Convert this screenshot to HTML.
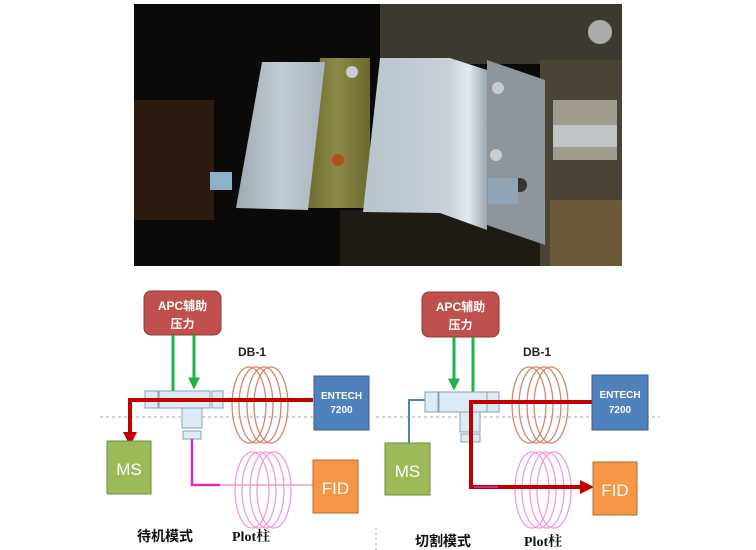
<!DOCTYPE html>
<html><head><meta charset="utf-8"><style>
html,body{margin:0;padding:0;background:#fff;}
svg{display:block;}
text{font-family:"Liberation Sans","Noto Sans CJK SC",sans-serif;}
text.serif{font-family:"Liberation Serif","Noto Serif CJK SC",serif;}
</style></head><body>
<svg width="756" height="550" viewBox="0 0 756 550" xmlns="http://www.w3.org/2000/svg">
<defs>
<linearGradient id="sil" x1="0" y1="0" x2="1" y2="0"><stop offset="0" stop-color="#9fa9b3"/><stop offset="0.5" stop-color="#c3ccd4"/><stop offset="1" stop-color="#aab4bd"/></linearGradient>
<linearGradient id="sil2" x1="0" y1="0" x2="1" y2="0"><stop offset="0" stop-color="#b8c3cc"/><stop offset="0.7" stop-color="#c8d1d8"/><stop offset="0.85" stop-color="#e4eaee"/><stop offset="1" stop-color="#9ba6b0"/></linearGradient>
<linearGradient id="gold" x1="0" y1="0" x2="1" y2="0"><stop offset="0" stop-color="#6c6a2c"/><stop offset="0.5" stop-color="#8b8a45"/><stop offset="1" stop-color="#6a6a30"/></linearGradient>
<marker id="ag" markerWidth="4" markerHeight="4" refX="2.5" refY="2" orient="auto" markerUnits="strokeWidth"><path d="M0,0 L4,2 L0,4z" fill="#1fb24a"/></marker>
<marker id="ar" markerWidth="3.5" markerHeight="3.5" refX="2" refY="1.75" orient="auto" markerUnits="strokeWidth"><path d="M0,0 L3.5,1.75 L0,3.5z" fill="#c00000"/></marker>
</defs>
<!-- photo -->
<rect x="134" y="4" width="488" height="262" fill="#0b0a08"/>
<rect x="134" y="100" width="80" height="120" fill="#2a1a10"/>
<rect x="380" y="4" width="242" height="60" fill="#3c3a30"/>
<rect x="540" y="60" width="82" height="206" fill="#4a4434"/>
<rect x="550" y="200" width="72" height="66" fill="#6b5a3a"/>
<rect x="340" y="210" width="200" height="56" fill="#1e1a14"/>
<polygon points="487,60 545,80 545,245 487,225" fill="#8e969c"/>
<polygon points="320,58 370,58 370,208 305,208" fill="url(#gold)"/>
<polygon points="262,62 325,62 308,210 236,208" fill="url(#sil)"/>
<polygon points="380,58 450,58 487,70 487,230 440,213 363,212" fill="url(#sil2)"/>
<circle cx="338" cy="160" r="6" fill="#b0501c"/>
<circle cx="352" cy="72" r="6" fill="#c8ccd0"/>
<circle cx="498" cy="88" r="6" fill="#c8ccd0"/>
<circle cx="496" cy="155" r="6" fill="#c8ccd0"/>
<circle cx="520" cy="185" r="7" fill="#333"/>
<rect x="488" y="178" width="30" height="26" fill="#8fa4b4"/>
<rect x="553" y="100" width="64" height="60" fill="#a09c8c"/>
<rect x="553" y="125" width="64" height="22" fill="#c0c4c6"/>
<rect x="210" y="172" width="22" height="18" fill="#8eb0c8"/>
<circle cx="600" cy="32" r="12" fill="#aaa"/>
<!-- dashed -->
<line x1="100" y1="417" x2="368" y2="417" stroke="#aaa" stroke-width="1" stroke-dasharray="3,3"/>
<line x1="376" y1="417" x2="660" y2="417" stroke="#aaa" stroke-width="1" stroke-dasharray="3,3"/>
<line x1="376" y1="528" x2="376" y2="550" stroke="#aaa" stroke-width="1" stroke-dasharray="2,3"/>

<!-- LEFT -->
<g>
<rect x="144" y="291" width="77" height="44" rx="7" fill="#c0504d" stroke="#8c3836"/>
<text x="182.5" y="310" font-size="12" font-weight="bold" fill="#fff" text-anchor="middle">APC辅助</text>
<text x="182.5" y="328" font-size="12" font-weight="bold" fill="#fff" text-anchor="middle">压力</text>
<line x1="173" y1="335" x2="173" y2="391" stroke="#1fb24a" stroke-width="3"/>
<line x1="194" y1="335" x2="194" y2="385" stroke="#1fb24a" stroke-width="3" marker-end="url(#ag)"/>
<g fill="#dcebf5" stroke="#8aa0b0" stroke-width="1">
<rect x="145" y="391" width="13" height="17"/><rect x="159" y="391" width="51" height="17"/><rect x="212" y="391" width="11" height="17"/>
<rect x="182" y="408" width="20" height="20"/><rect x="183" y="431" width="18" height="8"/>
</g>
<text x="252" y="356" font-size="12" font-weight="bold" fill="#222" text-anchor="middle">DB-1</text>
<g fill="none" stroke="#d6846e" stroke-width="1.3">
<ellipse cx="249" cy="405" rx="17" ry="38"/><ellipse cx="256" cy="405" rx="17" ry="38"/><ellipse cx="264" cy="405" rx="17" ry="38"/><ellipse cx="271" cy="405" rx="17" ry="38"/>
</g>
<polyline points="313,400 130,400 130,440" fill="none" stroke="#c00000" stroke-width="4" marker-end="url(#ar)"/>
<rect x="314" y="376" width="55" height="54" fill="#4f81bd" stroke="#385d8a"/>
<text x="341.5" y="399" font-size="10" font-weight="bold" fill="#fff" text-anchor="middle">ENTECH</text>
<text x="341.5" y="413" font-size="10" font-weight="bold" fill="#fff" text-anchor="middle">7200</text>
<rect x="107" y="441" width="44" height="53" fill="#9bbb59" stroke="#71893f"/>
<text x="129" y="475" font-size="17" fill="#fff" text-anchor="middle">MS</text>
<g fill="none" stroke="#f29ad8" stroke-width="1.3">
<ellipse cx="252" cy="490" rx="17" ry="38"/><ellipse cx="259" cy="490" rx="17" ry="38"/><ellipse cx="267" cy="490" rx="17" ry="38"/><ellipse cx="274" cy="490" rx="17" ry="38"/>
</g>
<polyline points="192,439 192,485 220,485" fill="none" stroke="#d62ec0" stroke-width="2.5"/>
<line x1="220" y1="485" x2="313" y2="485" stroke="#f29ad8" stroke-width="1.5"/>
<rect x="313" y="460" width="45" height="53" fill="#f79646" stroke="#b66d31"/>
<text x="335.5" y="494" font-size="17" fill="#fff" text-anchor="middle">FID</text>
<text x="137" y="541" font-size="14" font-weight="bold" fill="#111">待机模式</text>
<text class="serif" x="232" y="541" font-size="14" font-weight="bold" fill="#111">Plot柱</text>
</g>

<!-- RIGHT -->
<g>
<rect x="422" y="292" width="77" height="45" rx="7" fill="#c0504d" stroke="#8c3836"/>
<text x="460.5" y="311" font-size="12" font-weight="bold" fill="#fff" text-anchor="middle">APC辅助</text>
<text x="460.5" y="329" font-size="12" font-weight="bold" fill="#fff" text-anchor="middle">压力</text>
<line x1="454" y1="337" x2="454" y2="386" stroke="#1fb24a" stroke-width="3" marker-end="url(#ag)"/>
<line x1="473" y1="337" x2="473" y2="392" stroke="#1fb24a" stroke-width="3"/>
<polyline points="409,443 409,400 425,400" fill="none" stroke="#4f81bd" stroke-width="2"/>
<g fill="#dcebf5" stroke="#8aa0b0" stroke-width="1">
<rect x="425" y="392" width="13" height="20"/><rect x="439" y="392" width="48" height="20"/><rect x="487" y="392" width="12" height="20"/>
<rect x="460" y="412" width="20" height="20"/><rect x="461" y="434" width="19" height="8"/>
</g>
<text x="537" y="356" font-size="12" font-weight="bold" fill="#222" text-anchor="middle">DB-1</text>
<g fill="none" stroke="#d6846e" stroke-width="1.3">
<ellipse cx="529" cy="405" rx="17" ry="38"/><ellipse cx="536" cy="405" rx="17" ry="38"/><ellipse cx="544" cy="405" rx="17" ry="38"/><ellipse cx="551" cy="405" rx="17" ry="38"/>
</g>
<g fill="none" stroke="#f29ad8" stroke-width="1.3">
<ellipse cx="532" cy="490" rx="17" ry="38"/><ellipse cx="539" cy="490" rx="17" ry="38"/><ellipse cx="547" cy="490" rx="17" ry="38"/><ellipse cx="554" cy="490" rx="17" ry="38"/>
</g>
<polyline points="592,402 471,402 471,487 588,487" fill="none" stroke="#c00000" stroke-width="4" marker-end="url(#ar)"/>
<line x1="474" y1="487" x2="498" y2="487" stroke="#d62ec0" stroke-width="1.5"/>
<rect x="592" y="375" width="56" height="55" fill="#4f81bd" stroke="#385d8a"/>
<text x="620" y="398" font-size="10" font-weight="bold" fill="#fff" text-anchor="middle">ENTECH</text>
<text x="620" y="413" font-size="10" font-weight="bold" fill="#fff" text-anchor="middle">7200</text>
<rect x="385" y="443" width="45" height="52" fill="#9bbb59" stroke="#71893f"/>
<text x="407.5" y="477" font-size="17" fill="#fff" text-anchor="middle">MS</text>
<rect x="593" y="462" width="44" height="53" fill="#f79646" stroke="#b66d31"/>
<text x="615" y="496" font-size="17" fill="#fff" text-anchor="middle">FID</text>
<text x="415" y="546" font-size="14" font-weight="bold" fill="#111">切割模式</text>
<text class="serif" x="524" y="546" font-size="14" font-weight="bold" fill="#111">Plot柱</text>
</g>
</svg>
</body></html>
